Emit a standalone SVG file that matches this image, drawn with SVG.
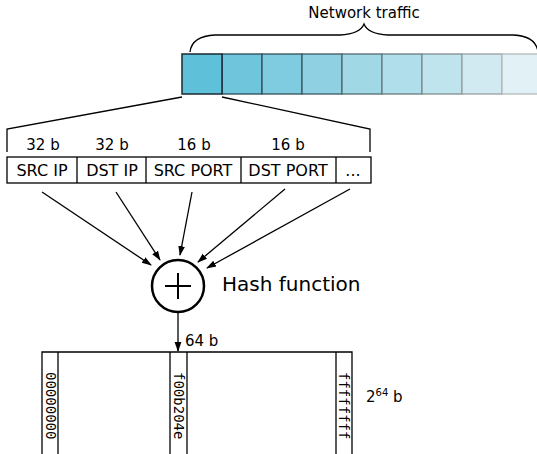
<svg xmlns="http://www.w3.org/2000/svg" width="537" height="454" viewBox="0 0 537 454">
  <style>
    .t { font-family: "DejaVu Sans", Verdana, sans-serif; fill: #000; }
    .mono { font-family: "DejaVu Sans Mono", monospace; font-size: 14px; fill: #000; }
    .ln { fill: none; stroke: #000; stroke-width: 1.3; }
    .cell { fill: #fff; stroke: #000; stroke-width: 1.3; }
  </style>
  <defs>
    <marker id="arrow" viewBox="0 0 10 10" refX="9" refY="5" markerWidth="10" markerHeight="10" markerUnits="userSpaceOnUse" orient="auto">
      <path d="M0,1.6 L10,5 L0,8.4 z" fill="#000"/>
    </marker>
  </defs>

  <rect width="537" height="454" fill="#fff"/>

  <!-- stream of packets -->
  <g id="traffic">
    <rect x="222" y="54" width="40" height="40" fill="#6fc6dc" stroke="#2a4a55" stroke-width="1.3"/>
    <rect x="262" y="54" width="40" height="40" fill="#7fcbdf" stroke="#354f58" stroke-width="1.3"/>
    <rect x="302" y="54" width="40" height="40" fill="#8fd1e3" stroke="#40585f" stroke-width="1.3"/>
    <rect x="342" y="54" width="40" height="40" fill="#a0d8e6" stroke="#556a70" stroke-width="1.3"/>
    <rect x="382" y="54" width="40" height="40" fill="#b0deea" stroke="#6a7c80" stroke-width="1.3"/>
    <rect x="422" y="54" width="40" height="40" fill="#c0e4ed" stroke="#7f8d90" stroke-width="1.3"/>
    <rect x="462" y="54" width="40" height="40" fill="#d1eaf1" stroke="#999fa1" stroke-width="1.3"/>
    <rect x="502" y="54" width="40" height="40" fill="#e1f1f5" stroke="#b5b9ba" stroke-width="1.3"/>
    <rect x="182" y="54" width="40" height="40" fill="#5fc0d9" stroke="#1a2a30" stroke-width="1.5"/>
    <path class="ln" d="M190,52 Q192,36 215,35 L340,35 Q360,34 364,24 Q368,34 388,35 L513,35 Q536,36 538,52"/>
    <text class="t" x="364" y="18" font-size="15" text-anchor="middle">Network traffic</text>
  </g>

  <!-- zoom from first packet to header -->
  <g id="expand">
    <path class="ln" d="M182,97 L7,129 L7,152"/>
    <path class="ln" d="M222,97 L370,129 L370,152"/>
  </g>

  <!-- packet header fields -->
  <g id="header">
    <rect class="cell" x="7" y="157" width="364" height="26"/>
    <line class="ln" x1="77" y1="157" x2="77" y2="183"/>
    <line class="ln" x1="146" y1="157" x2="146" y2="183"/>
    <line class="ln" x1="241" y1="157" x2="241" y2="183"/>
    <line class="ln" x1="336" y1="157" x2="336" y2="183"/>
    <text class="t" font-size="15" x="43" y="150" text-anchor="middle">32 b</text>
    <text class="t" font-size="15" x="112" y="150" text-anchor="middle">32 b</text>
    <text class="t" font-size="15" x="194" y="150" text-anchor="middle">16 b</text>
    <text class="t" font-size="15" x="288" y="150" text-anchor="middle">16 b</text>
    <text class="t" font-size="16" x="42" y="176" text-anchor="middle">SRC IP</text>
    <text class="t" font-size="16" x="112" y="176" text-anchor="middle">DST IP</text>
    <text class="t" font-size="16" x="193" y="176" text-anchor="middle">SRC PORT</text>
    <text class="t" font-size="16" x="288" y="176" text-anchor="middle">DST PORT</text>
    <text class="t" font-size="16" x="353" y="176" text-anchor="middle">...</text>
  </g>

  <!-- hash function -->
  <g id="hash">
    <circle cx="178" cy="286" r="26" fill="#fff" stroke="#000" stroke-width="2.5"/>
    <line x1="165" y1="286" x2="191" y2="286" stroke="#000" stroke-width="2"/>
    <line x1="178" y1="273" x2="178" y2="299" stroke="#000" stroke-width="2"/>
    <text class="t" font-size="20" x="222" y="291">Hash function</text>
  </g>

  <!-- connectors -->
  <g id="connectors">
    <line class="ln" x1="42" y1="192" x2="151" y2="265" marker-end="url(#arrow)"/>
    <line class="ln" x1="116" y1="192" x2="160" y2="260" marker-end="url(#arrow)"/>
    <line class="ln" x1="192" y1="192" x2="180" y2="255" marker-end="url(#arrow)"/>
    <line class="ln" x1="285" y1="189" x2="198" y2="262" marker-end="url(#arrow)"/>
    <line class="ln" x1="350" y1="189" x2="207" y2="268" marker-end="url(#arrow)"/>
    <line class="ln" x1="178" y1="313" x2="178" y2="351" marker-end="url(#arrow)"/>
    <text class="t" font-size="15" x="185" y="346">64 b</text>
  </g>

  <!-- hash table -->
  <g id="table">
    <path class="ln" d="M42,454 L42,352 L352,352 L352,454"/>
    <line class="ln" x1="58" y1="352" x2="58" y2="454"/>
    <line class="ln" x1="170" y1="352" x2="170" y2="454"/>
    <line class="ln" x1="187" y1="352" x2="187" y2="454"/>
    <line class="ln" x1="336" y1="352" x2="336" y2="454"/>
    <text class="mono" transform="translate(46,372) rotate(90)">00000000</text>
    <text class="mono" transform="translate(174,372) rotate(90)">f00b204e</text>
    <text class="mono" transform="translate(339,372) rotate(90)">ffffffff</text>
    <text class="t" font-size="15" x="366" y="402">2<tspan font-size="10" dy="-6">64</tspan><tspan dy="6"> b</tspan></text>
  </g>
</svg>
